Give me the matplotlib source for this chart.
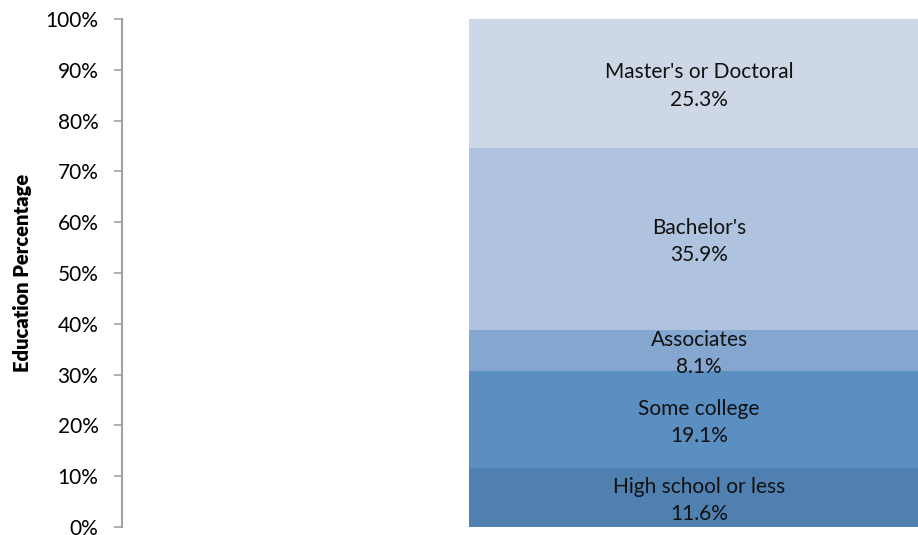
import matplotlib.pyplot as plt
import matplotlib.ticker as mticker
from matplotlib.transforms import offset_copy

plt.rcParams['font.family'] = ['Lato', 'DejaVu Sans']

# education levels, bottom to top
levels = ["High school or less", "Some college", "Associates", "Bachelor's", "Master's or Doctoral"]
shares = [11.6, 19.1, 8.1, 35.9, 25.3]
colors = ['#4F80B0', '#5B8EC1', '#85A6CF', '#B0C3DE', '#CDD7E6']

fig = plt.figure(figsize=(9.18, 5.35), dpi=100)
ax = fig.add_axes([122 / 918, (535 - 527) / 535, 796 / 918, 508 / 535])
shift = offset_copy(ax.transData, fig=fig, x=0, y=-2, units='points')

bottom = 0
for lev, val, col in zip(levels, shares, colors):
    ax.bar(0.725, val, width=0.578, bottom=bottom, color=col, edgecolor='none')
    ax.text(0.725, bottom + val / 2, f"{lev}\n{val}%", ha='center', va='center',
            fontsize=15, color='#111111', linespacing=1.45, transform=shift)
    bottom += val

ax.set_xlim(0, 1)
ax.set_ylim(0, 100)
ax.set_yticks(range(0, 101, 10))
ax.yaxis.set_major_formatter(mticker.FuncFormatter(lambda v, p: f"{v:.0f}%"))
ax.tick_params(axis='y', labelsize=15, length=6, width=1.2, color='#A0A0A0', pad=11)
ax.set_xticks([])
for s in ['top', 'right', 'bottom']:
    ax.spines[s].set_visible(False)
ax.spines['left'].set_color('#A0A0A0')
ax.spines['left'].set_linewidth(1.5)
ax.set_ylabel('Education Percentage', fontsize=14.5, fontweight='heavy')
ax.yaxis.set_label_coords(-0.113, 0.5)

fig.savefig('out.png', dpi=100)
